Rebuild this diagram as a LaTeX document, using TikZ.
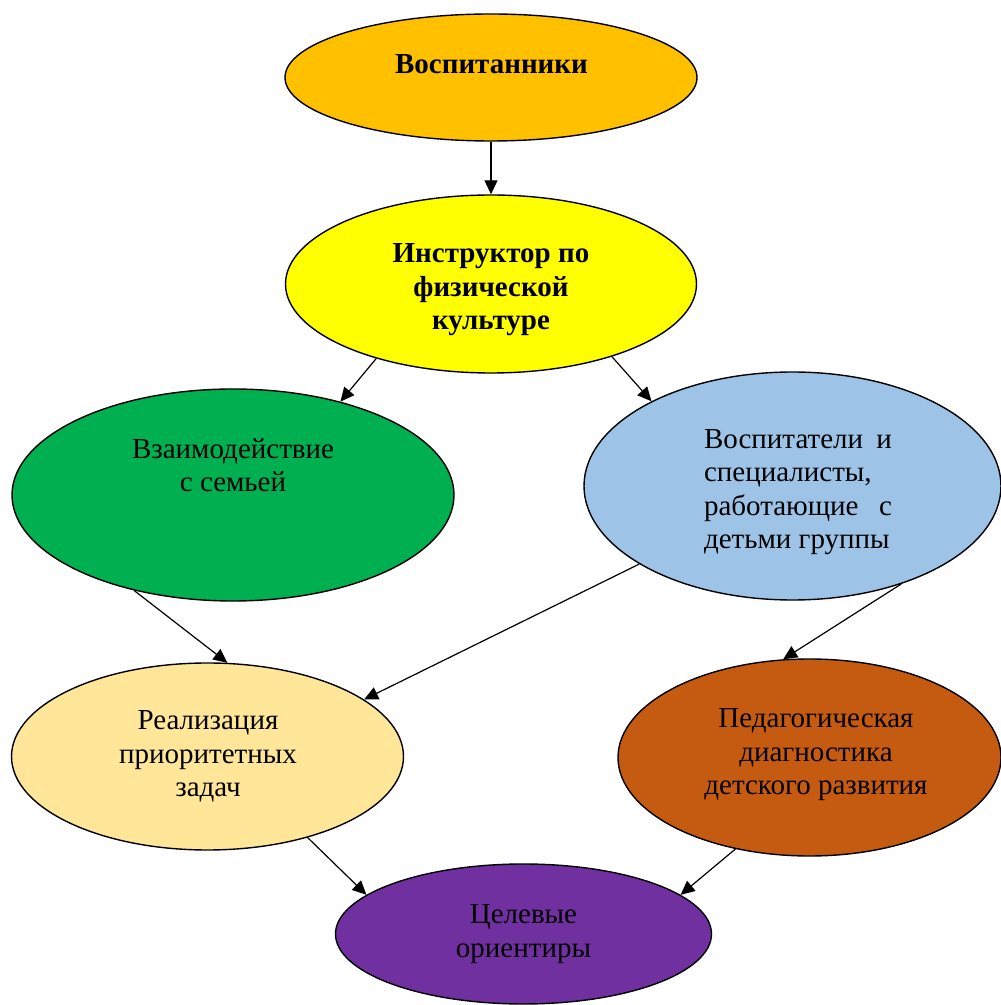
\documentclass[tikz,border=0pt]{standalone}
\usepackage{fontspec}
\setmainfont{Liberation Serif}
\usetikzlibrary{shapes.geometric,arrows.meta}
\definecolor{cOrange}{HTML}{FFC000}
\definecolor{cYellow}{HTML}{FFFF00}
\definecolor{cGreen}{HTML}{00B050}
\definecolor{cBlue}{HTML}{9DC3E6}
\definecolor{cCream}{HTML}{FFE699}
\definecolor{cBrown}{HTML}{C55A11}
\definecolor{cPurple}{HTML}{7030A0}
\tikzset{
  oval/.style={ellipse, draw=black, line width=1.4pt, inner sep=0pt},
  txt/.style={font=\fontsize{29}{33.5}\selectfont, align=center, inner sep=0pt},
  btxt/.style={txt, font=\fontsize{29}{33.5}\selectfont\bfseries},
  conn/.style={line width=1.2pt, -{Triangle[length=14pt,width=13pt]}}
}
\begin{document}
\begin{tikzpicture}[x=1pt,y=1pt]
\useasboundingbox (0,0) rectangle (1001,1005);
% ellipses (y = 1005 - pixel y)
\node[oval, fill=cOrange, minimum width=412pt, minimum height=127pt,
  label={[btxt, xshift=0.5pt, yshift=13pt]center:Воспитанники}]
  (A) at (491,927.5) {};
\node[oval, fill=cYellow, minimum width=411pt, minimum height=178pt,
  label={[btxt, yshift=-6pt]center:{Инструктор по\\физической\\культуре}}]
  (B) at (491,721) {};
\node[oval, fill=cGreen, minimum width=442pt, minimum height=212pt,
  label={[txt, yshift=30pt]center:{Взаимодействие\\с семьей}}]
  (C) at (233,510) {};
\node[oval, fill=cBlue, minimum width=417pt, minimum height=228pt,
  label={[txt, align=left, xshift=5.5pt, yshift=-6pt]center:{\hbox to 188pt{Воспитатели\hfill и}\\\hbox to 188pt{специалисты,\hfill}\\\hbox to 188pt{работающие\hfill с}\\\hbox to 188pt{детьми группы\hfill}}}]
  (D) at (792.5,519) {};
\node[oval, fill=cCream, minimum width=392pt, minimum height=187pt,
  label={[txt, xshift=0.5pt, yshift=0pt]center:{Реализация\\приоритетных\\задач}}]
  (E) at (207.5,248.5) {};
\node[oval, fill=cBrown, minimum width=383pt, minimum height=197pt,
  label={[txt, xshift=6.5pt, yshift=2.5pt]center:{Педагогическая\\диагностика\\детского развития}}]
  (F) at (809.5,247.5) {};
\node[oval, fill=cPurple, minimum width=376pt, minimum height=140pt,
  label={[txt, yshift=0pt]center:{Целевые\\ориентиры}}]
  (G) at (523.5,71) {};
% connectors
\draw[conn] (A.south) -- (B.north);
\draw[conn] (B.-147.5) -- (C.41.8);
\draw[conn] (B.-31.2) -- (D.149.1);
\draw[conn] (C.-136.8) -- (E.78.8);
\draw[conn] (D.-153.8) -- (E.20);
\draw[conn] (D.-42.8) -- (F.105.6);
\draw[conn] (E.-39.3) -- (G.166.5);
\draw[conn] (F.-129.6) -- (G.14.4);
\end{tikzpicture}
\end{document}
